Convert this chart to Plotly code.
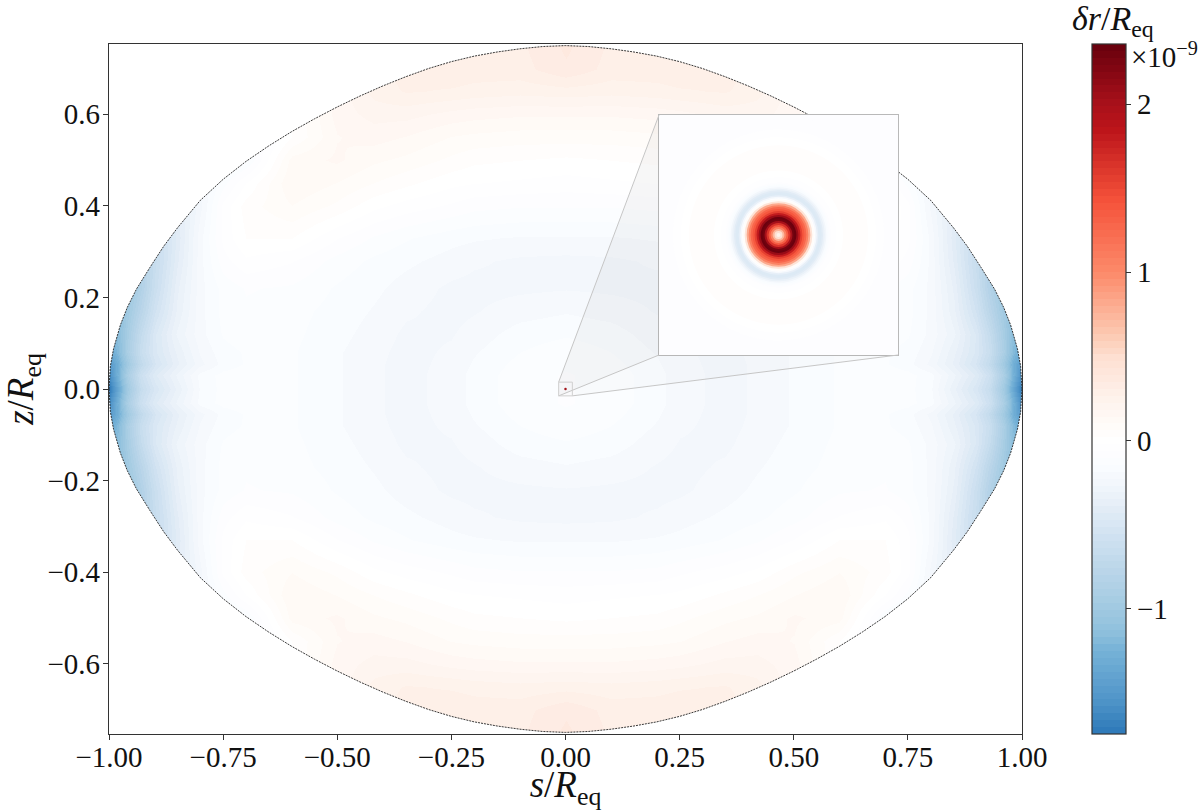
import numpy as np
import plotly.graph_objects as go

W, H = 1200, 811

# surface of the star, upper right quadrant (mirrored below)
surface_s = [0.0, 0.05, 0.10, 0.15, 0.20, 0.25, 0.30, 0.35, 0.40, 0.45, 0.50, 0.55,
             0.60, 0.65, 0.70, 0.75, 0.80, 0.85, 0.88, 0.91, 0.94, 0.96, 0.975, 0.99, 0.997, 1.0]
surface_z = [0.750, 0.748, 0.743, 0.736, 0.727, 0.715, 0.700, 0.682, 0.662, 0.640, 0.616, 0.590,
             0.562, 0.531, 0.497, 0.458, 0.412, 0.352, 0.312, 0.266, 0.218, 0.178, 0.140, 0.088, 0.050, 0.0]

# delta r / R_eq in units of 1e-9, upper right quadrant
grid_s = [0.0, 0.1, 0.2, 0.25, 0.35, 0.42, 0.5, 0.6, 0.7, 0.75, 0.8, 0.85, 0.9, 0.93, 0.96, 0.98, 1.0]
grid_z = [0.0, 0.03, 0.055, 0.08, 0.12, 0.17, 0.22, 0.28, 0.33, 0.4, 0.45, 0.5, 0.55, 0.6, 0.65, 0.7, 0.76]
grid_values = [
    [-.10, -.12, -.17, -.21, -.24, -.22, -.18, -.14, -.12, -.13, -.18, -.34, -.50, -.66, -1.00, -1.35, -1.74],
    [-.10, -.12, -.17, -.21, -.24, -.22, -.18, -.14, -.12, -.13, -.17, -.30, -.44, -.60, -.92, -1.25, -1.60],
    [-.11, -.13, -.18, -.215, -.24, -.22, -.18, -.14, -.14, -.17, -.24, -.36, -.52, -.70, -1.00, -1.28, -1.50],
    [-.12, -.145, -.19, -.22, -.24, -.215, -.18, -.14, -.14, -.16, -.22, -.34, -.48, -.64, -.92, -1.18, -1.35],
    [-.15, -.165, -.21, -.23, -.235, -.205, -.17, -.135, -.12, -.14, -.20, -.30, -.48, -.68, -.95, -1.15, -1.30],
    [-.19, -.205, -.23, -.24, -.22, -.19, -.16, -.13, -.11, -.13, -.20, -.34, -.56, -.78, -1.00, -1.15, -1.25],
    [-.23, -.235, -.24, -.235, -.205, -.175, -.15, -.11, -.10, -.13, -.20, -.36, -.62, -.85, -1.05, -1.15, -1.25],
    [-.24, -.235, -.22, -.205, -.175, -.155, -.12, -.06, -.03, -.08, -.20, -.40, -.65, -.85, -1.00, -1.10, -1.20],
    [-.19, -.19, -.18, -.17, -.14, -.11, -.06, .02, .02, -.05, -.20, -.42, -.65, -.80, -.90, -1.00, -1.10],
    [-.10, -.10, -.09, -.07, -.04, -.01, .05, .10, .04, -.05, -.24, -.40, -.60, -.70, -.80, -.90, -1.00],
    [-.04, -.03, -.02, -.01, .03, .06, .10, .14, -.02, -.12, -.24, -.36, -.50, -.60, -.70, -.80, -.90],
    [.01, .02, .03, .05, .09, .11, .15, .12, -.15, -.20, -.25, -.30, -.40, -.50, -.60, -.70, -.80],
    [.08, .08, .09, .10, .14, .16, .14, .02, -.15, -.20, -.25, -.30, -.40, -.50, -.60, -.70, -.80],
    [.15, .15, .16, .17, .20, .20, .16, .02, -.15, -.20, -.25, -.30, -.40, -.50, -.60, -.70, -.80],
    [.25, .24, .25, .26, .27, .24, .16, .02, -.15, -.20, -.25, -.30, -.40, -.50, -.60, -.70, -.80],
    [.34, .29, .29, .30, .29, .24, .16, .02, -.15, -.20, -.25, -.30, -.40, -.50, -.60, -.70, -.80],
    [.36, .30, .30, .30, .29, .24, .16, .02, -.15, -.20, -.25, -.30, -.40, -.50, -.60, -.70, -.80],
]

# radial profile in the zoomed inset, outermost first (r in 1e-3 R_eq)
inset_r = [15.0, 13.25, 12.25, 11.25, 9.4, 8.1, 7.25, 6.9, 6.6, 6.4, 6.2, 6.0, 5.8, 5.6, 5.4, 5.2, 5.0, 4.8, 4.6, 4.5,
           4.25, 4.0, 3.75, 3.5, 3.25, 3.0, 2.75, 2.5, 2.25, 2.0, 1.75, 1.5, 1.25, 1.0, .75, .5, .25]
inset_v = [-.10, -.06, .0, .03, .03, .0, -.03, -.06, -.10, -.13, -.18, -.24, -.32, -.40, -.46, -.46, -.36, -.22, -.05, .10,
           .45, .80, 1.05, 1.25, 1.40, 1.55, 1.80, 2.10, 2.35, 2.30, 2.00, 1.65, 1.35, 1.05, .75, .48, .25]
inset_corner = [[-.10]]

# colour anchors
cbar_min, cbar_max = -1.744, 2.357
anchor_v = [-1.744, -1.55, -1.25, -1.15, -.93, -.75, -.55, -.36, -.25, -.16, -.10, 0,
            .10, .24, .49, .64, 1.0, 1.43, 1.85, 2.0, 2.357]
anchor_rgb = [(44, 120, 184), (79, 148, 200), (118, 178, 215), (141, 191, 220), (169, 206, 228),
              (189, 215, 234), (210, 227, 242), (232, 240, 248), (243, 247, 252), (249, 252, 255),
              (252, 253, 255), (255, 255, 255), (255, 251, 248), (254, 243, 237), (254, 224, 210),
              (252, 200, 176), (252, 138, 106), (245, 82, 58), (188, 20, 26), (168, 16, 26), (103, 0, 13)]

s_ticks = [-1.0, -0.75, -0.5, -0.25, 0.0, 0.25, 0.5, 0.75, 1.0]
z_ticks = [-0.6, -0.4, -0.2, 0.0, 0.2, 0.4, 0.6]
cbar_ticks = [-1, 0, 1, 2]
cbar_labels = ["\u22121", "0", "1", "2"]
zoom_half = 0.015

z_lim = 0.7535
font = "Liberation Serif"
n_bands = 100


def band_colorscale():
    scale = []
    levels = np.linspace(cbar_min, cbar_max, n_bands + 1)
    for i in range(n_bands):
        mid = 0.5 * (levels[i] + levels[i + 1])
        rgb = [int(round(np.interp(mid, anchor_v, [c[k] for c in anchor_rgb]))) for k in range(3)]
        color = f"rgb({rgb[0]},{rgb[1]},{rgb[2]})"
        scale.append([i / n_bands, color])
        scale.append([(i + 1) / n_bands, color])
    return scale


values = np.array(grid_values)
values = np.hstack([values[:, :0:-1], values])
values = np.vstack([values[:0:-1], values])
s_full = [-v for v in grid_s[:0:-1]] + grid_s
z_full = [-v for v in grid_z[:0:-1]] + grid_z

# outline, left to right over the top
top_s = [-v for v in surface_s[:0:-1]] + surface_s
top_z = surface_z[:0:-1] + surface_z

fig = go.Figure()

fig.add_trace(go.Heatmap(x=s_full, y=z_full, z=values, zsmooth="best", coloraxis="coloraxis",
                         hoverinfo="skip"))

# white outside the star
fig.add_trace(go.Scatter(x=[-1, -1] + top_s + [1, 1, -1], y=[0, 0] + top_z + [0, z_lim, z_lim],
                         mode="none", fill="toself", fillcolor="white", hoverinfo="skip"))
fig.add_trace(go.Scatter(x=[-1, -1] + top_s + [1, 1, -1],
                         y=[0, 0] + [-v for v in top_z] + [0, -z_lim, -z_lim],
                         mode="none", fill="toself", fillcolor="white", hoverinfo="skip"))

for sign in [1, -1]:
    fig.add_trace(go.Scatter(x=top_s, y=[sign * v for v in top_z], mode="lines", hoverinfo="skip",
                             line=dict(color="#222222", width=0.9, dash="2px,1px")))

fig.add_trace(go.Scatter(x=[0], y=[0], mode="markers", hoverinfo="skip",
                         marker=dict(color="#a50f15", size=2.5)))

# inset
fig.add_trace(go.Heatmap(x=[-zoom_half, zoom_half], y=[-zoom_half, zoom_half],
                         z=[inset_corner[0] * 2, inset_corner[0] * 2], coloraxis="coloraxis",
                         xaxis="x2", yaxis="y2", hoverinfo="skip"))
fig.add_trace(go.Barpolar(r=inset_r, theta=[0] * len(inset_r), width=[360] * len(inset_r),
                          marker=dict(color=inset_v, coloraxis="coloraxis", line=dict(width=0)),
                          hoverinfo="skip"))

main_x = [109 / W, 1022 / W]
main_y = [(H - 734) / H, (H - 44) / H]
inset_x = [659 / W, 898 / W]
inset_y = [(H - 355) / H, (H - 115) / H]


def to_s(px):
    return (px - main_x[0]) / (main_x[1] - main_x[0]) * 2 - 1


def to_z(py):
    return ((py - main_y[0]) / (main_y[1] - main_y[0]) * 2 - 1) * z_lim


left, right = to_s(inset_x[0]), to_s(inset_x[1])
low, high = to_z(inset_y[0]), to_z(inset_y[1])
grey_line = dict(color="#c6c6c6", width=1)
shapes = [
    dict(type="path", xref="x", yref="y", fillcolor="rgba(120,120,120,0.06)", line=dict(width=0),
         path=f"M{-zoom_half},{zoom_half} L{left},{high} L{left},{low} L{-zoom_half},{-zoom_half} Z"),
    dict(type="path", xref="x", yref="y", fillcolor="rgba(120,120,120,0.02)", line=dict(width=0),
         path=f"M{-zoom_half},{-zoom_half} L{left},{low} L{right},{low} L{zoom_half},{-zoom_half} Z"),
    dict(type="line", xref="x", yref="y", x0=-zoom_half, y0=zoom_half, x1=left, y1=high, line=grey_line),
    dict(type="line", xref="x", yref="y", x0=-zoom_half, y0=-zoom_half, x1=left, y1=low, line=grey_line),
    dict(type="line", xref="x", yref="y", x0=zoom_half, y0=-zoom_half, x1=right, y1=low, line=grey_line),
    dict(type="rect", xref="x", yref="y", x0=-zoom_half, y0=-zoom_half, x1=zoom_half, y1=zoom_half,
         line=dict(color="#cfcfcf", width=1)),
]

annotations = [
    dict(text="<i>\u03b4r</i>/<i>R</i><sub>eq</sub>", xref="paper", yref="paper", x=1113 / W, y=(H - 21) / H,
         xanchor="center", yanchor="middle", showarrow=False, font=dict(family=font, size=34, color="#111111")),
    dict(text="\u00d710<sup>\u22129</sup>", xref="paper", yref="paper", x=1129 / W, y=(H - 55) / H,
         xanchor="left", yanchor="middle", showarrow=False, font=dict(family=font, size=29, color="#111111")),
]

tick_font = dict(family=font, size=29, color="#111111")
title_font = dict(family=font, size=37, color="#111111")
frame = dict(showgrid=False, zeroline=False, showline=True, linecolor="#333333", linewidth=1.2,
             mirror=True, ticks="outside", ticklen=5, tickwidth=1, tickcolor="#333333", tickfont=tick_font)

fig.update_layout(
    width=W,
    height=H,
    margin=dict(l=0, r=0, t=0, b=0, autoexpand=False),
    paper_bgcolor="white",
    plot_bgcolor="white",
    showlegend=False,
    font=dict(family=font, color="#111111"),
    xaxis=dict(domain=main_x, range=[-1, 1], tickvals=s_ticks, tickformat=".2f", ticklabelstandoff=-8,
               title=dict(text="<i>s</i>/<i>R</i><sub>eq</sub>", font=title_font, standoff=18), **frame),
    yaxis=dict(domain=main_y, range=[-z_lim, z_lim], tickvals=z_ticks, tickformat=".1f", ticklabelstandoff=-3,
               title=dict(text="<i>z</i>/<i>R</i><sub>eq</sub>", font=title_font, standoff=10), **frame),
    xaxis2=dict(domain=inset_x, range=[-zoom_half, zoom_half], anchor="y2", showticklabels=False, ticks="",
                showgrid=False, zeroline=False, showline=True, mirror=True, linecolor="#b9b9b9", linewidth=1.2),
    yaxis2=dict(domain=inset_y, range=[-zoom_half, zoom_half], anchor="x2", showticklabels=False, ticks="",
                showgrid=False, zeroline=False, showline=True, mirror=True, linecolor="#b9b9b9", linewidth=1.2),
    polar=dict(domain=dict(x=inset_x, y=inset_y), bgcolor="rgba(0,0,0,0)", barmode="overlay",
               radialaxis=dict(visible=False, range=[0, 15]), angularaxis=dict(visible=False)),
    coloraxis=dict(
        colorscale=band_colorscale(), cmin=cbar_min, cmax=cbar_max,
        colorbar=dict(x=1092 / W, xanchor="left", y=main_y[0], yanchor="bottom", len=main_y[1] - main_y[0],
                      lenmode="fraction", thickness=34, thicknessmode="pixels", xpad=0, ypad=0,
                      outlinecolor="#333333", outlinewidth=1.2, tickvals=cbar_ticks, ticktext=cbar_labels,
                      ticks="outside", ticklen=5, tickwidth=1, tickcolor="#333333", tickfont=tick_font),
    ),
    shapes=shapes,
    annotations=annotations,
)

fig.write_html("out.html", config=dict(displayModeBar=False),
               post_script="document.body.style.margin='0';document.documentElement.style.overflow='hidden';")
